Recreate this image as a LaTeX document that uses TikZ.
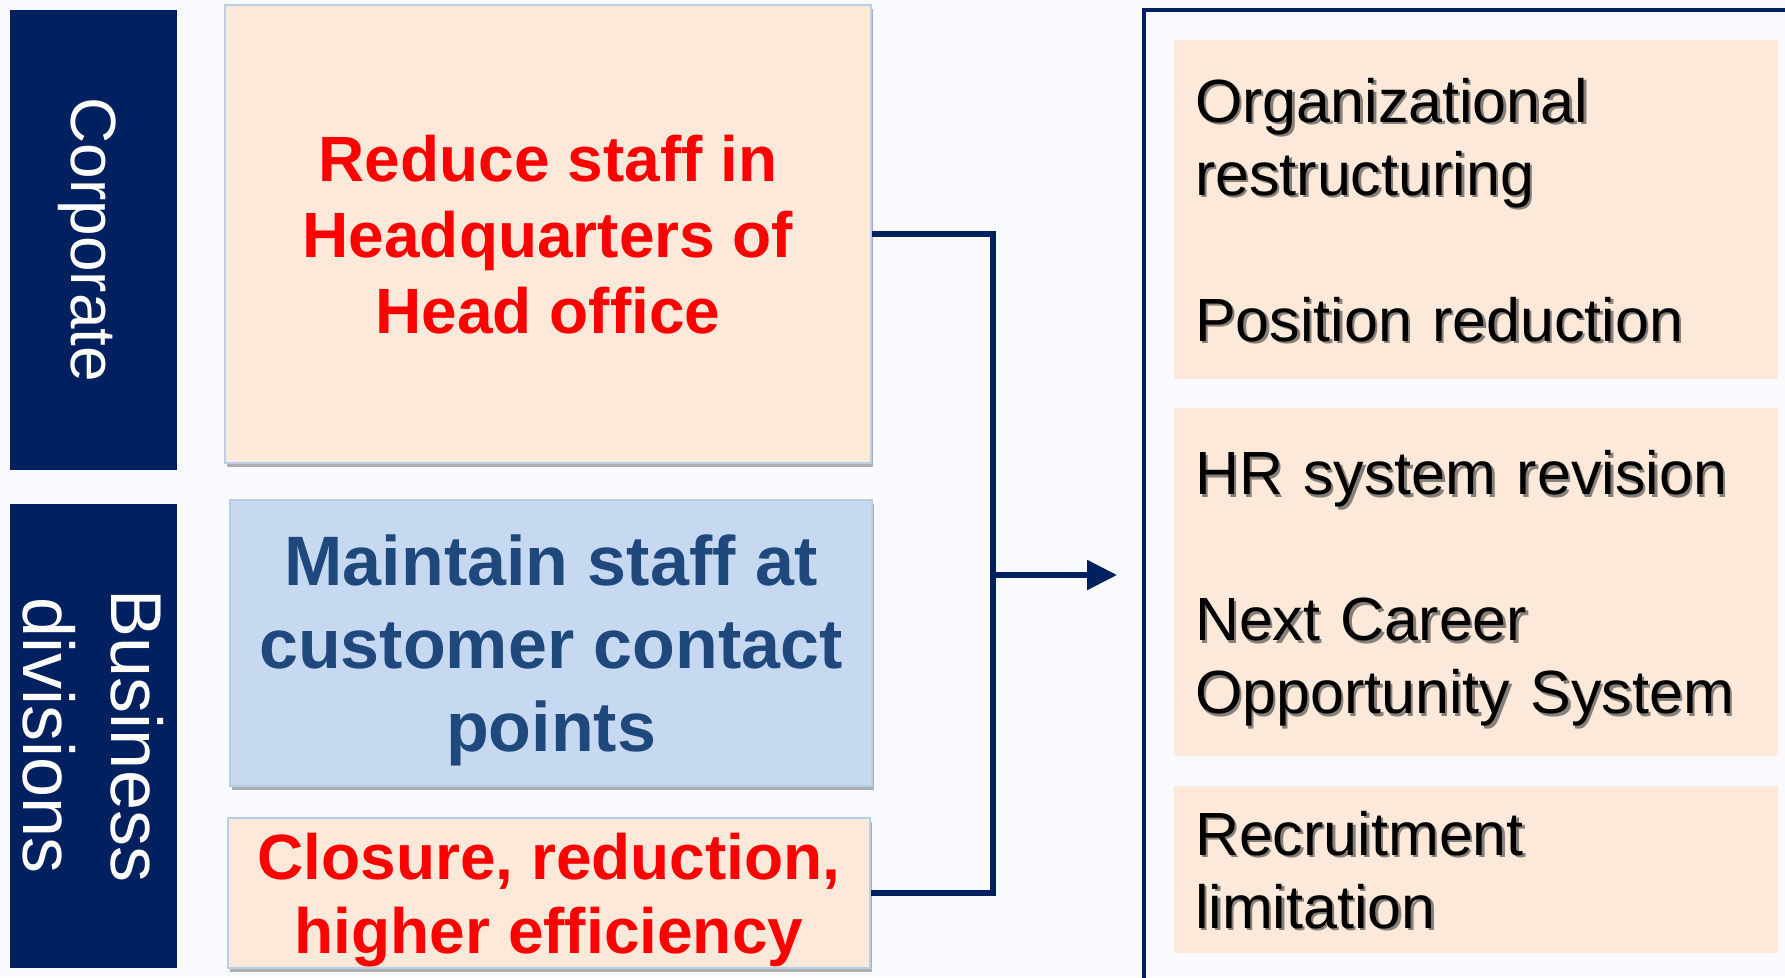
\documentclass[tikz,border=0pt]{standalone}
\usepackage{fontspec}
\setmainfont{Liberation Sans}
\usetikzlibrary{shadows,arrows.meta}
\definecolor{navy}{RGB}{0,32,96}
\definecolor{peach}{RGB}{253,233,217}
\definecolor{lblue}{RGB}{198,217,241}
\definecolor{edgeblue}{RGB}{185,205,229}
\definecolor{txtblue}{RGB}{31,73,125}
\definecolor{bgcol}{RGB}{249,250,253}
\definecolor{shgray}{RGB}{135,128,122}
\newcommand\shtext[1]{\raisebox{0pt}[\height][0pt]{\rlap{\kern2.5pt\raisebox{-2.5pt}{\textcolor{shgray}{#1}}}#1}}
\begin{document}
\begin{tikzpicture}[x=1pt,y=-1pt,
  sidebox/.style={fill=navy, draw=none, text=white, inner sep=0pt, align=center, text depth=0pt, rotate=-90},
  leftbox/.style={draw=edgeblue, line width=2pt, inner sep=0pt, align=center, text depth=0pt,
    drop shadow={shadow xshift=2pt, shadow yshift=-4pt, opacity=0.3, fill=black}},
  rightbox/.style={fill=peach, draw=none, inner xsep=21pt, inner ysep=0pt, text width=562pt,
    align=left, minimum width=604pt, font=\fontsize{61}{73}\selectfont},
  frameline/.style={draw=navy, line width=4pt},
  conn/.style={draw=navy, line width=5.5pt, line join=miter}
]
\clip (0,0) rectangle (1785,977);
\fill[bgcol] (0,0) rectangle (1785,977);

% side labels
\node[sidebox, minimum width=460pt, minimum height=167pt, font=\fontsize{64}{76}\selectfont]
  (corp) at (93.5,240) {Corporate};
\node[sidebox, minimum width=464pt, minimum height=167pt, font=\fontsize{72}{88}\selectfont]
  (bus) at (93.5,736) {Business\\divisions};

% left boxes
\node[leftbox, fill=peach, text=red, minimum width=646pt, minimum height=458pt,
  font=\fontsize{64}{76}\selectfont\bfseries]
  (hq) at (548,234) {Reduce staff in\\Headquarters of\\Head office};
\node[leftbox, fill=lblue, text=txtblue, minimum width=642pt, minimum height=286pt,
  font=\fontsize{70}{83}\selectfont\bfseries]
  (cc) at (551,643) {Maintain staff at\\customer contact\\points};
\node[leftbox, fill=peach, text=red, minimum width=642pt, minimum height=150pt,
  font=\fontsize{64}{74}\selectfont\bfseries]
  (cl) at (549,893) {Closure, reduction,\\higher efficiency};

% right frame
\node[frameline, minimum width=756pt, minimum height=1090pt, inner sep=0pt] (frame) at (1522,555) {};

% right boxes
\node[rightbox, minimum height=339pt] (r1) at (1476,209.5)
  {\shtext{Organizational}\\\shtext{restructuring}\\[73pt]\shtext{Position reduction}};
\node[rightbox, minimum height=348pt] (r2) at (1476,582)
  {\shtext{HR system revision}\\[73pt]\shtext{Next Career}\\\shtext{Opportunity System}};
\node[rightbox, minimum height=167pt] (r3) at (1476,869.5)
  {\shtext{Recruitment}\\\shtext{limitation}};

% connectors
\coordinate (jx) at (993,575);
\coordinate (tip) at (1117,575);
\draw[conn] (hq.east) -- (hq.east -| jx) -- (cl.east -| jx) -- (cl.east);
\draw[conn, -{Triangle[length=30pt,width=29pt]}] (jx) -- (tip);
\end{tikzpicture}
\end{document}
